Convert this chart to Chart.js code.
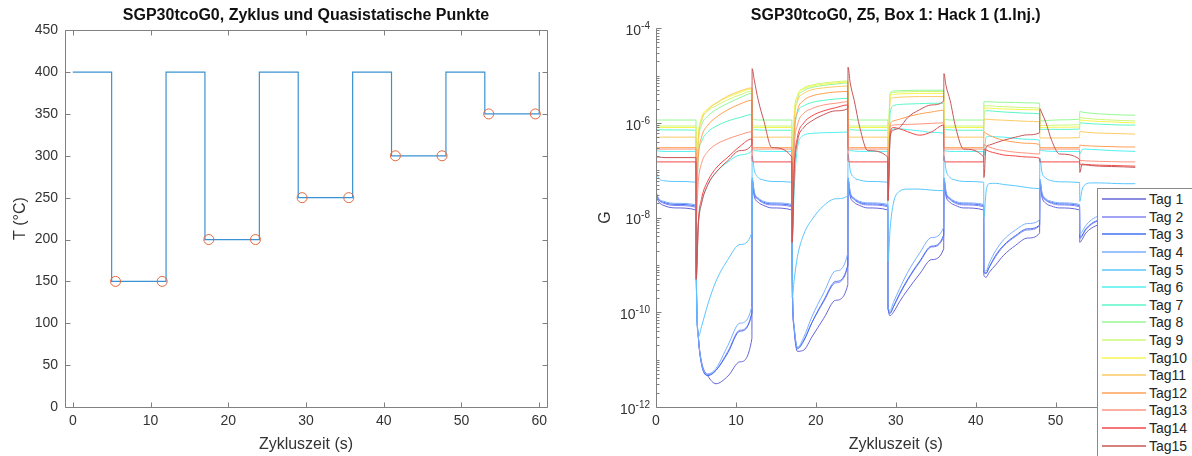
<!DOCTYPE html>
<html lang="de">
<head>
<meta charset="UTF-8">
<title>SGP30tcoG0</title>
<script src="https://cdn.jsdelivr.net/npm/chart.js@4.4.1/dist/chart.umd.min.js"></script>
<style>
  body { margin: 0; width: 1192px; height: 456px; overflow: hidden; background: #fff; position: relative;
         font-family: 'Liberation Sans', Arial, sans-serif; }
  .panel { position: absolute; top: 0; width: 596px; height: 456px; }
  #legende { position: absolute; left: 1097px; top: 188px; width: 110px; height: 300px; box-sizing: border-box;
             border: 1px solid #8a8a8a; background: #fff; padding-top: 1.5px; }
  .eintrag { height: 17.6px; display: flex; align-items: center; font-size: 14px; color: #262626; }
  .linie { display: inline-block; width: 44px; height: 0; border-top: 2px solid; margin-left: 4px; margin-right: 3px; opacity: .75; }
</style>
</head>
<body>
<div class="panel" style="left:0"><canvas id="tempChart"></canvas></div>
<div class="panel" style="left:596px"><canvas id="gChart"></canvas></div>
<div id="legende"></div>

<script>
// ---- linkes Diagramm: Temperaturzyklus ----
const stufenZeit = [0, 5, 12, 17, 24, 29, 36, 41, 48, 53, 60];
const stufenTemp = [400, 150, 400, 200, 400, 250, 400, 300, 400, 350, 400];
const qsZeit = [5.5, 11.5, 17.5, 23.5, 29.5, 35.5, 41.5, 47.5, 53.5, 59.5];
const qsTemp = [150, 150, 200, 200, 250, 250, 300, 300, 350, 350];
const zeitTicks = [0, 10, 20, 30, 40, 50, 60];
const tempTicks = [0, 50, 100, 150, 200, 250, 300, 350, 400, 450];

// ---- rechtes Diagramm: Leitwert G ----
const gDekaden = [-12, -11, -10, -9, -8, -7, -6, -5, -4];
const gBeschriftet = [-12, -10, -8, -6, -4];

const zeit = [
  0, 0.3, 1, 2.5, 5,
  5.03, 5.3, 5.7, 6.5, 7.5, 9, 10.5, 12,
  12.03, 12.3, 12.8, 13.5, 14.5, 17,
  17.03, 17.3, 17.7, 18.5, 19.5, 21, 22.5, 24,
  24.03, 24.3, 24.8, 25.5, 26.5, 29,
  29.03, 29.3, 29.7, 30.5, 31.5, 33, 34.5, 36,
  36.03, 36.3, 36.8, 37.5, 38.5, 41,
  41.03, 41.3, 41.7, 42.5, 43.5, 45, 46.5, 48,
  48.03, 48.3, 48.8, 49.5, 50.5, 53,
  53.03, 53.3, 53.7, 54.5, 55.5, 57, 58.5, 60
];

const tag1 = [
  3e-8, 2.2e-8, 1.8e-8, 1.6e-8, 1.45e-8,
  8e-10, 3e-11, 9e-12, 4.5e-12, 3.1e-12, 4.5e-12, 9e-12, 2.8e-11,
  5.5e-8, 2.8e-8, 2.1e-8, 1.8e-8, 1.6e-8, 1.45e-8,
  1e-9, 4e-11, 1.5e-11, 1.6e-11, 3e-11, 7.5e-11, 1.8e-10, 3.8e-10,
  5.5e-8, 2.8e-8, 2.1e-8, 1.8e-8, 1.6e-8, 1.45e-8,
  1.5e-10, 8.5e-11, 1e-10, 1.7e-10, 3e-10, 6.5e-10, 1.3e-9, 2.2e-9,
  5.5e-8, 2.8e-8, 2.1e-8, 1.8e-8, 1.6e-8, 1.45e-8,
  6e-10, 5.5e-10, 7e-10, 1e-9, 1.6e-9, 2.6e-9, 3.7e-9, 4.7e-9,
  5e-8, 2.7e-8, 2e-8, 1.75e-8, 1.6e-8, 1.45e-8,
  3e-9, 3.4e-9, 4.5e-9, 6e-9, 7.2e-9, 8.5e-9, 9.5e-9, 1e-8
];
const tag2 = [
  3.2e-8, 2.4e-8, 2e-8, 1.8e-8, 1.65e-8,
  9e-10, 3e-11, 8e-12, 4.8e-12, 6e-12, 1.5e-11, 4.2e-11, 1e-10,
  6e-8, 3.1e-8, 2.4e-8, 2e-8, 1.85e-8, 1.7e-8,
  9e-10, 4.5e-11, 1.8e-11, 2.6e-11, 6e-11, 1.7e-10, 4.2e-10, 9.5e-10,
  6e-8, 3.1e-8, 2.4e-8, 2e-8, 1.85e-8, 1.7e-8,
  1.2e-10, 1e-10, 1.3e-10, 2.4e-10, 4.8e-10, 1.15e-9, 2.4e-9, 4e-9,
  6e-8, 3.1e-8, 2.4e-8, 2e-8, 1.85e-8, 1.7e-8,
  7e-10, 6.8e-10, 9e-10, 1.5e-9, 2.5e-9, 4e-9, 5.5e-9, 6.8e-9,
  5.8e-8, 3e-8, 2.3e-8, 2e-8, 1.85e-8, 1.7e-8,
  3.6e-9, 4e-9, 5.3e-9, 7.2e-9, 8.7e-9, 1e-8, 1.1e-8, 1.15e-8
];
const tag3 = [
  3.4e-8, 2.5e-8, 2.1e-8, 1.9e-8, 1.75e-8,
  1e-9, 3e-11, 8e-12, 4.6e-12, 5.9e-12, 1.4e-11, 4e-11, 9.5e-11,
  6.5e-8, 3.3e-8, 2.5e-8, 2.1e-8, 1.95e-8, 1.8e-8,
  1e-9, 4.5e-11, 1.7e-11, 2.5e-11, 6e-11, 1.8e-10, 4.5e-10, 1e-9,
  6.5e-8, 3.3e-8, 2.5e-8, 2.1e-8, 1.95e-8, 1.8e-8,
  1.2e-10, 9.5e-11, 1.3e-10, 2.5e-10, 5e-10, 1.2e-9, 2.5e-9, 4.3e-9,
  6.5e-8, 3.3e-8, 2.5e-8, 2.1e-8, 1.95e-8, 1.8e-8,
  7e-10, 6.6e-10, 9e-10, 1.6e-9, 2.6e-9, 4.2e-9, 5.8e-9, 7e-9,
  6e-8, 3.2e-8, 2.4e-8, 2.1e-8, 1.95e-8, 1.8e-8,
  3.8e-9, 4.2e-9, 5.5e-9, 7.5e-9, 9e-9, 1.05e-8, 1.15e-8, 1.2e-8
];
const tag4 = [
  3.6e-8, 2.6e-8, 2.2e-8, 2e-8, 1.85e-8,
  1.1e-9, 3.2e-11, 8.5e-12, 5e-12, 6.5e-12, 2e-11, 5.9e-11, 1.35e-10,
  7e-8, 3.5e-8, 2.6e-8, 2.2e-8, 2.05e-8, 1.9e-8,
  1.1e-9, 5e-11, 1.8e-11, 3e-11, 8e-11, 2.6e-10, 7.5e-10, 1.8e-9,
  7e-8, 3.5e-8, 2.6e-8, 2.2e-8, 2.05e-8, 1.9e-8,
  1.3e-10, 1.1e-10, 1.6e-10, 3.2e-10, 7e-10, 1.8e-9, 3.8e-9, 6.3e-9,
  7e-8, 3.5e-8, 2.6e-8, 2.2e-8, 2.05e-8, 1.9e-8,
  8e-10, 7.5e-10, 1.1e-9, 2e-9, 3.4e-9, 5.5e-9, 7.5e-9, 9e-9,
  6.5e-8, 3.4e-8, 2.5e-8, 2.2e-8, 2.05e-8, 1.9e-8,
  4.5e-9, 5e-9, 6.5e-9, 9e-9, 1.1e-8, 1.25e-8, 1.35e-8, 1.4e-8
];
const tag5 = [
  1e-7, 7e-8, 6e-8, 5.8e-8, 5.6e-8,
  2e-9, 3e-11, 5e-11, 1.5e-10, 4.5e-10, 1.3e-9, 2.7e-9, 4.8e-9,
  2e-7, 1e-7, 7e-8, 6.2e-8, 5.8e-8, 5.6e-8,
  2e-10, 5e-10, 1.5e-9, 4.5e-9, 9e-9, 1.8e-8, 2.5e-8, 2.9e-8,
  2.2e-7, 1e-7, 7e-8, 6.2e-8, 5.8e-8, 5.6e-8,
  1.2e-9, 6e-9, 2e-8, 3.6e-8, 4e-8, 4e-8, 3.8e-8, 3.7e-8,
  2e-7, 1e-7, 7e-8, 6.2e-8, 5.8e-8, 5.6e-8,
  1e-8, 3.5e-8, 5.2e-8, 5.3e-8, 5e-8, 4.7e-8, 4.3e-8, 4.1e-8,
  1.8e-7, 9e-8, 6.8e-8, 6e-8, 5.7e-8, 5.5e-8,
  2.2e-8, 3.8e-8, 5e-8, 5.4e-8, 5.4e-8, 5.3e-8, 5.2e-8, 5.2e-8
];
const tag6 = [
  2.6e-7, 2.55e-7, 2.5e-7, 2.5e-7, 2.5e-7,
  2e-9, 8e-9, 2e-8, 5e-8, 9e-8, 1.5e-7, 2.1e-7, 2.6e-7,
  2.8e-7, 2.6e-7, 2.55e-7, 2.5e-7, 2.5e-7, 2.5e-7,
  3e-9, 4e-8, 3e-7, 5.5e-7, 6e-7, 6.2e-7, 6.3e-7, 6.4e-7,
  2.7e-7, 2.6e-7, 2.55e-7, 2.5e-7, 2.5e-7, 2.5e-7,
  3e-8, 5e-7, 7.5e-7, 7.5e-7, 7.2e-7, 6.8e-7, 6.3e-7, 6e-7,
  2.6e-7, 2.55e-7, 2.5e-7, 2.5e-7, 2.5e-7, 2.5e-7,
  2e-7, 5e-7, 5.2e-7, 5.1e-7, 5e-7, 4.7e-7, 4.5e-7, 4.3e-7,
  2.7e-7, 2.6e-7, 2.55e-7, 2.5e-7, 2.5e-7, 2.5e-7,
  2.2e-7, 2.7e-7, 2.8e-7, 2.75e-7, 2.7e-7, 2.6e-7, 2.55e-7, 2.5e-7
];
const tag7 = [
  7.2e-7, 7.2e-7, 7.1e-7, 7.1e-7, 7e-7,
  2e-8, 2e-7, 4e-7, 6.5e-7, 8.5e-7, 1.1e-6, 1.3e-6, 1.5e-6,
  7.5e-7, 7.2e-7, 7.1e-7, 7e-7, 7e-7, 7e-7,
  2e-8, 5e-7, 1.6e-6, 2.3e-6, 2.7e-6, 3e-6, 3.2e-6, 3.3e-6,
  7.5e-7, 7.2e-7, 7.1e-7, 7e-7, 7e-7, 7e-7,
  1e-7, 1.6e-6, 2.3e-6, 2.45e-6, 2.5e-6, 2.55e-6, 2.6e-6, 2.6e-6,
  7.5e-7, 7.2e-7, 7.1e-7, 7e-7, 7e-7, 7e-7,
  1.5e-6, 1.8e-6, 1.8e-6, 1.75e-6, 1.7e-6, 1.65e-6, 1.6e-6, 1.55e-6,
  7.4e-7, 7.3e-7, 7.3e-7, 7.3e-7, 7.3e-7, 7.4e-7,
  1e-6, 1e-6, 9.8e-7, 9.6e-7, 9.4e-7, 9.2e-7, 9e-7, 9e-7
];
const tag8 = [
  1.15e-6, 1.15e-6, 1.15e-6, 1.15e-6, 1.15e-6,
  5e-8, 4e-7, 9e-7, 1.4e-6, 1.9e-6, 2.6e-6, 3.4e-6, 4.2e-6,
  1.2e-6, 1.17e-6, 1.15e-6, 1.15e-6, 1.15e-6, 1.15e-6,
  5e-8, 1.2e-6, 3.2e-6, 4.8e-6, 5.6e-6, 6.2e-6, 6.6e-6, 7e-6,
  1.2e-6, 1.17e-6, 1.15e-6, 1.15e-6, 1.15e-6, 1.15e-6,
  3e-7, 4.2e-6, 4.7e-6, 4.8e-6, 4.85e-6, 4.9e-6, 4.9e-6, 4.9e-6,
  1.2e-6, 1.17e-6, 1.15e-6, 1.15e-6, 1.15e-6, 1.15e-6,
  2.8e-6, 2.8e-6, 2.8e-6, 2.75e-6, 2.72e-6, 2.7e-6, 2.65e-6, 2.6e-6,
  1.1e-6, 1.1e-6, 1.12e-6, 1.14e-6, 1.16e-6, 1.2e-6,
  1.75e-6, 1.7e-6, 1.65e-6, 1.6e-6, 1.55e-6, 1.5e-6, 1.47e-6, 1.45e-6
];
const tag9 = [
  8.6e-7, 8.6e-7, 8.6e-7, 8.6e-7, 8.6e-7,
  5e-8, 5e-7, 1.2e-6, 1.8e-6, 2.3e-6, 3.1e-6, 3.9e-6, 4.7e-6,
  8.8e-7, 8.6e-7, 8.6e-7, 8.6e-7, 8.6e-7, 8.6e-7,
  5e-8, 1.5e-6, 3.8e-6, 5.5e-6, 6.3e-6, 7e-6, 7.4e-6, 7.7e-6,
  8.8e-7, 8.6e-7, 8.6e-7, 8.6e-7, 8.6e-7, 8.6e-7,
  3e-7, 4e-6, 4.4e-6, 4.5e-6, 4.55e-6, 4.6e-6, 4.6e-6, 4.6e-6,
  8.8e-7, 8.6e-7, 8.6e-7, 8.6e-7, 8.6e-7, 8.6e-7,
  2.3e-6, 2.3e-6, 2.3e-6, 2.25e-6, 2.2e-6, 2.15e-6, 2.1e-6, 2.05e-6,
  8.8e-7, 8.8e-7, 8.8e-7, 8.9e-7, 9e-7, 9.2e-7,
  1.3e-6, 1.28e-6, 1.25e-6, 1.22e-6, 1.18e-6, 1.15e-6, 1.12e-6, 1.1e-6
];
const tag10 = [
  8e-7, 8e-7, 8e-7, 8e-7, 8e-7,
  5e-8, 5.5e-7, 1.3e-6, 2e-6, 2.6e-6, 3.5e-6, 4.4e-6, 5.2e-6,
  8.2e-7, 8e-7, 8e-7, 8e-7, 8e-7, 8e-7,
  5e-8, 1.4e-6, 3.6e-6, 5.2e-6, 6e-6, 6.6e-6, 7e-6, 7.3e-6,
  8.2e-7, 8e-7, 8e-7, 8e-7, 8e-7, 8e-7,
  3e-7, 3.7e-6, 4e-6, 4.1e-6, 4.15e-6, 4.2e-6, 4.2e-6, 4.2e-6,
  8.2e-7, 8e-7, 8e-7, 8e-7, 8e-7, 8e-7,
  2.05e-6, 2.05e-6, 2.05e-6, 2e-6, 1.97e-6, 1.93e-6, 1.9e-6, 1.87e-6,
  8e-7, 8e-7, 8e-7, 8.1e-7, 8.1e-7, 8.2e-7,
  1.15e-6, 1.14e-6, 1.12e-6, 1.1e-6, 1.07e-6, 1.05e-6, 1.02e-6, 1e-6
];
const tag11 = [
  5e-7, 5e-7, 5e-7, 5e-7, 5e-7,
  4e-8, 4.5e-7, 1.1e-6, 1.9e-6, 2.6e-6, 3.7e-6, 4.7e-6, 5.5e-6,
  5.2e-7, 5e-7, 5e-7, 5e-7, 5e-7, 5e-7,
  4e-8, 1e-6, 2.8e-6, 4.2e-6, 5e-6, 5.5e-6, 5.8e-6, 6e-6,
  5.2e-7, 5e-7, 5e-7, 5e-7, 5e-7, 5e-7,
  2e-7, 3e-6, 3.4e-6, 3.5e-6, 3.55e-6, 3.6e-6, 3.6e-6, 3.6e-6,
  5.2e-7, 5e-7, 5e-7, 5e-7, 5e-7, 5e-7,
  1.2e-6, 1.2e-6, 1.18e-6, 1.16e-6, 1.14e-6, 1.11e-6, 1.08e-6, 1.05e-6,
  4.8e-7, 4.8e-7, 4.8e-7, 4.8e-7, 4.8e-7, 4.9e-7,
  6.6e-7, 6.5e-7, 6.4e-7, 6.2e-7, 6.1e-7, 6e-7, 5.9e-7, 5.8e-7
];
const tag12 = [
  3e-7, 3e-7, 3e-7, 3e-7, 3e-7,
  3e-8, 2e-7, 5e-7, 9e-7, 1.3e-6, 1.9e-6, 2.5e-6, 3e-6,
  3.2e-7, 3e-7, 3e-7, 3e-7, 3e-7, 3e-7,
  3e-8, 6e-7, 1.8e-6, 3e-6, 3.7e-6, 4.2e-6, 4.5e-6, 4.6e-6,
  3.2e-7, 3e-7, 3e-7, 3e-7, 3e-7, 3e-7,
  1e-7, 9e-7, 1.1e-6, 1.2e-6, 1.35e-6, 1.55e-6, 1.7e-6, 1.85e-6,
  3.2e-7, 3e-7, 3e-7, 3e-7, 3e-7, 3e-7,
  6.5e-7, 6e-7, 5.5e-7, 4.8e-7, 4.3e-7, 3.9e-7, 3.7e-7, 3.5e-7,
  3e-7, 3e-7, 3e-7, 3e-7, 3e-7, 3e-7,
  3.4e-7, 3.35e-7, 3.3e-7, 3.25e-7, 3.2e-7, 3.15e-7, 3.1e-7, 3.1e-7
];
const tag13 = [
  2.8e-7, 2.8e-7, 2.8e-7, 2.8e-7, 2.8e-7,
  1e-8, 6e-8, 1.4e-7, 2.5e-7, 3.5e-7, 4.6e-7, 5.6e-7, 6.5e-7,
  2.9e-7, 2.8e-7, 2.8e-7, 2.8e-7, 2.8e-7, 2.8e-7,
  1e-8, 3e-7, 9e-7, 1.6e-6, 2e-6, 2.4e-6, 2.6e-6, 2.8e-6,
  2.9e-7, 2.8e-7, 2.8e-7, 2.8e-7, 2.8e-7, 2.8e-7,
  5e-8, 8e-7, 9e-7, 9.2e-7, 9.3e-7, 9.5e-7, 9.8e-7, 1e-6,
  2.9e-7, 2.8e-7, 2.8e-7, 2.8e-7, 2.8e-7, 2.8e-7,
  3.5e-7, 3.3e-7, 3.1e-7, 2.8e-7, 2.6e-7, 2.4e-7, 2.3e-7, 2.2e-7,
  2.8e-7, 2.8e-7, 2.8e-7, 2.8e-7, 2.8e-7, 2.8e-7,
  1.6e-7, 1.6e-7, 1.58e-7, 1.56e-7, 1.54e-7, 1.52e-7, 1.5e-7, 1.5e-7
];
const tag14 = [
  1.5e-7, 1.5e-7, 1.5e-7, 1.5e-7, 1.5e-7,
  5e-10, 8e-9, 2.5e-8, 6e-8, 1.1e-7, 1.9e-7, 3.2e-7, 4.6e-7,
  1.6e-7, 1.5e-7, 1.5e-7, 1.5e-7, 1.5e-7, 1.5e-7,
  3e-9, 1.2e-7, 5e-7, 1e-6, 1.4e-6, 1.8e-6, 2.1e-6, 2.4e-6,
  1.6e-7, 1.5e-7, 1.5e-7, 1.5e-7, 1.5e-7, 1.5e-7,
  2.3e-8, 6e-7, 8e-7, 7.5e-7, 6.5e-7, 5.5e-7, 6.5e-7, 9e-7,
  1.6e-7, 1.5e-7, 1.5e-7, 1.5e-7, 1.5e-7, 1.5e-7,
  2.8e-7, 2.7e-7, 2.5e-7, 2.3e-7, 2.1e-7, 2e-7, 1.9e-7, 1.8e-7,
  1.5e-7, 1.5e-7, 1.5e-7, 1.5e-7, 1.5e-7, 1.5e-7,
  1.3e-7, 1.35e-7, 1.33e-7, 1.3e-7, 1.28e-7, 1.26e-7, 1.24e-7, 1.22e-7
];
const tag15 = [
  1.9e-7, 1.9e-7, 1.85e-7, 1.85e-7, 1.85e-7,
  5e-10, 7e-9, 2e-8, 5e-8, 9e-8, 1.6e-7, 2.6e-7, 3.5e-7,
  1.4e-5, 8e-6, 3e-6, 1.1e-6, 3e-7, 1.9e-7,
  3e-9, 9e-8, 4e-7, 8e-7, 1.1e-6, 1.5e-6, 1.8e-6, 2e-6,
  1.5e-5, 7e-6, 3e-6, 8e-7, 2.6e-7, 1.9e-7,
  2.3e-8, 5e-7, 7e-7, 8e-7, 1.3e-6, 1.9e-6, 2.4e-6, 2.9e-6,
  1.1e-5, 6e-6, 3e-6, 8e-7, 2.8e-7, 1.9e-7,
  7e-8, 3e-7, 3.4e-7, 3.8e-7, 4.3e-7, 5e-7, 5.6e-7, 6.2e-7,
  2e-6, 1.6e-6, 1e-6, 4.3e-7, 2.2e-7, 1.7e-7,
  9e-8, 1.3e-7, 1.3e-7, 1.25e-7, 1.22e-7, 1.2e-7, 1.18e-7, 1.15e-7
];

const tagNamen = ['Tag 1', 'Tag 2', 'Tag 3', 'Tag 4', 'Tag 5', 'Tag 6', 'Tag 7', 'Tag 8',
                  'Tag 9', 'Tag10', 'Tag11', 'Tag12', 'Tag13', 'Tag14', 'Tag15'];
const tagWerte = [tag1, tag2, tag3, tag4, tag5, tag6, tag7, tag8, tag9, tag10, tag11, tag12, tag13, tag14, tag15];
const tagFarben = ['#6464d8', '#8484f2', '#4670f2', '#7aaeff', '#5cc6ff', '#52f0f0', '#5cf5c8', '#96f796',
                   '#ccf77a', '#f5f550', '#fccb66', '#ffa055', '#ff9580', '#f24848', '#c85656'];

Chart.defaults.font.family = "'Liberation Sans', Arial, sans-serif";
Chart.defaults.color = '#262626';

const achsenFarbe = '#808080';
const schrift = "'Liberation Sans', Arial, sans-serif";

// Achsenlinien, nach innen zeigende Striche und 10^n-Beschriftung wie in MATLAB
const rahmenPlugin = {
  id: 'rahmen',
  afterDatasetsDraw(chart, args, o) {
    const { ctx, chartArea: a } = chart;
    const sx = chart.scales.x, sy = chart.scales.y;
    const p = v => Math.round(v) + 0.5;
    const L = p(a.left), R = p(a.right), T = p(a.top), B = p(a.bottom);
    ctx.save();
    ctx.strokeStyle = achsenFarbe;
    ctx.lineWidth = 1;
    ctx.beginPath();
    ctx.moveTo(L, T); ctx.lineTo(L, B); ctx.lineTo(R, B);
    if (o.kasten) { ctx.lineTo(R, T); ctx.lineTo(L, T); }
    sx.ticks.forEach(t => {
      const x = p(sx.getPixelForValue(t.value));
      ctx.moveTo(x, B); ctx.lineTo(x, B - 5);
      if (o.kasten) { ctx.moveTo(x, T); ctx.lineTo(x, T + 5); }
    });
    sy.ticks.forEach(t => {
      const y = p(sy.getPixelForValue(t.value));
      const lang = (o.log && !gBeschriftet.includes(Math.round(Math.log10(t.value)))) ? 3 : 5;
      ctx.moveTo(L, y); ctx.lineTo(L + lang, y);
      if (o.kasten) { ctx.moveTo(R, y); ctx.lineTo(R - 5, y); }
    });
    if (o.log) {
      for (let d = -12; d < -4; d++) {
        for (let m = 2; m <= 9; m++) {
          const y = p(sy.getPixelForValue(m * Math.pow(10, d)));
          ctx.moveTo(L, y); ctx.lineTo(L + 3, y);
        }
      }
    }
    ctx.stroke();

    if (o.log) {
      ctx.fillStyle = '#333';
      ctx.textAlign = 'right';
      ctx.textBaseline = 'middle';
      const xr = a.left - 6;
      gBeschriftet.forEach(e => {
        const y = sy.getPixelForValue(Math.pow(10, e));
        const hochText = String(e);
        ctx.font = '10px ' + schrift;
        const w = ctx.measureText(hochText).width;
        ctx.fillText(hochText, xr, y - 2);
        ctx.font = '14px ' + schrift;
        ctx.fillText('10', xr - w, y + 3);
      });
    }
    ctx.restore();
  }
};

new Chart(document.getElementById('tempChart'), {
  type: 'line',
  data: {
    datasets: [
      {
        label: 'QS-Punkte',
        type: 'scatter',
        data: qsZeit.map((t, i) => ({ x: t, y: qsTemp[i] })),
        pointStyle: 'circle',
        pointRadius: 5,
        pointBorderColor: '#e0693f',
        pointBackgroundColor: 'rgba(0,0,0,0)',
        pointBorderWidth: 1,
        showLine: false
      },
      {
        label: 'T',
        data: stufenZeit.map((t, i) => ({ x: t, y: stufenTemp[i] })),
        stepped: 'before',
        borderColor: '#3b92d2',
        borderWidth: 1.2,
        pointRadius: 0,
        fill: false
      }
    ]
  },
  options: {
    responsive: true,
    maintainAspectRatio: false,
    animation: false,
    events: [],
    layout: { padding: { left: 0, right: 49, top: 0, bottom: 0 } },
    scales: {
      x: {
        type: 'linear', min: -1, max: 61,
        afterBuildTicks: s => { s.ticks = zeitTicks.map(v => ({ value: v })); },
        afterFit: s => { s.height = 49; },
        grid: { display: false, drawTicks: false },
        border: { display: false },
        ticks: { font: { size: 14 }, padding: 6, maxRotation: 0, color: '#333' },
        title: { display: true, text: 'Zykluszeit (s)', font: { size: 16 }, padding: { top: 0, bottom: 2 }, color: '#333' }
      },
      y: {
        type: 'linear', min: 0, max: 450,
        afterBuildTicks: s => { s.ticks = tempTicks.map(v => ({ value: v })); },
        afterFit: s => { s.width = 65; },
        grid: { display: false, drawTicks: false },
        border: { display: false },
        ticks: { font: { size: 14 }, padding: 7, color: '#333' },
        title: { display: true, text: 'T (°C)', font: { size: 16 }, padding: { top: 11, bottom: 0 }, color: '#333' }
      }
    },
    plugins: {
      legend: { display: false },
      tooltip: { enabled: false },
      title: {
        display: true, fullSize: false,
        text: 'SGP30tcoG0, Zyklus und Quasistatische Punkte',
        font: { size: 16, weight: 'bold' }, color: '#111',
        padding: { top: 6, bottom: 5 }
      },
      rahmen: { kasten: true, log: false }
    }
  },
  plugins: [rahmenPlugin]
});

new Chart(document.getElementById('gChart'), {
  type: 'line',
  data: {
    datasets: tagWerte.map((werte, i) => ({
      label: tagNamen[i],
      data: zeit.map((t, k) => ({ x: t, y: werte[k] })),
      borderColor: tagFarben[i],
      borderWidth: 1,
      pointRadius: 0,
      cubicInterpolationMode: 'monotone',
      fill: false,
      order: tagWerte.length - i
    }))
  },
  options: {
    responsive: true,
    maintainAspectRatio: false,
    animation: false,
    events: [],
    layout: { padding: { left: 0, right: 56.5, top: 0, bottom: 0 } },
    scales: {
      x: {
        type: 'linear', min: 0, max: 60,
        afterBuildTicks: s => { s.ticks = zeitTicks.map(v => ({ value: v })); },
        afterFit: s => { s.height = 49; },
        grid: { display: false, drawTicks: false },
        border: { display: false },
        ticks: { font: { size: 14 }, padding: 6, maxRotation: 0, color: '#333' },
        title: { display: true, text: 'Zykluszeit (s)', font: { size: 16 }, padding: { top: 0, bottom: 2 }, color: '#333' }
      },
      y: {
        type: 'logarithmic', min: 1e-12, max: 1e-4,
        afterBuildTicks: s => { s.ticks = gDekaden.map(e => ({ value: Math.pow(10, e) })); },
        afterFit: s => { s.width = 60; },
        grid: { display: false, drawTicks: false },
        border: { display: false },
        ticks: { font: { size: 14 }, padding: 6, callback: () => '' },
        title: { display: true, text: 'G', font: { size: 16 }, padding: { top: 0, bottom: 0 }, color: '#333' }
      }
    },
    plugins: {
      legend: { display: false },
      tooltip: { enabled: false },
      title: {
        display: true, fullSize: false,
        text: 'SGP30tcoG0, Z5, Box 1: Hack 1 (1.Inj.)',
        font: { size: 16, weight: 'bold' }, color: '#111',
        padding: { top: 6, bottom: 3 }
      },
      rahmen: { kasten: false, log: true }
    }
  },
  plugins: [rahmenPlugin]
});

// Legende als HTML ueber dem rechten Diagramm
const legende = document.getElementById('legende');
tagNamen.forEach((name, i) => {
  const zeile = document.createElement('div');
  zeile.className = 'eintrag';
  zeile.innerHTML = `<span class="linie" style="border-color:${tagFarben[i]}"></span><span>${name}</span>`;
  legende.appendChild(zeile);
});
</script>
</body>
</html>
